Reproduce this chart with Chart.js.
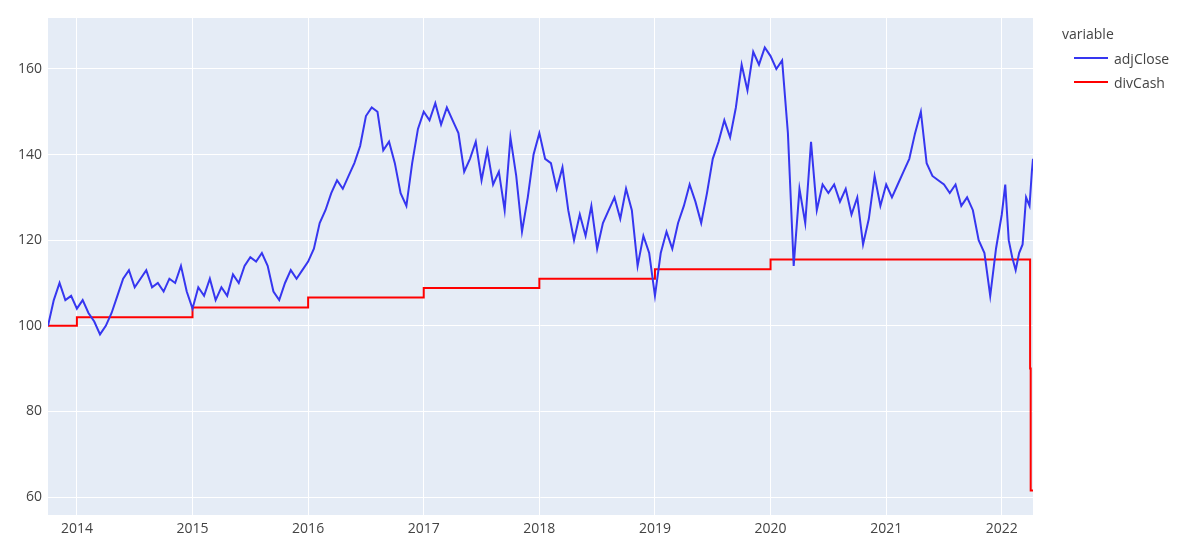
<!DOCTYPE html>
<html>
<head>
<meta charset="utf-8">
<script src="https://cdn.jsdelivr.net/npm/chart.js@4/dist/chart.umd.min.js"></script>
<style>
  body { margin: 0; background: #fff; font-family: "Open Sans", sans-serif; }
  #wrap { position: relative; width: 1200px; height: 551px; }
  #legend { position: absolute; left: 1062px; top: 24px; color: #444; font-size: 14px; }
  #legend .item { display: flex; align-items: center; height: 24px; margin-left: 12px; }
  #legend .sw { width: 34px; height: 2px; margin-right: 6px; }
</style>
</head>
<body>
<div id="wrap">
  <canvas id="c" width="1200" height="551"></canvas>
  <div id="legend">
    <div style="height:22px">variable</div>
    <div class="item"><span class="sw" style="background:#3636f0"></span>adjClose</div>
    <div class="item"><span class="sw" style="background:#f00"></span>divCash</div>
  </div>
</div>
<script>
// decimal years
const closeX = [2013.75,2013.8,2013.85,2013.9,2013.95,2014.0,2014.05,2014.1,2014.15,2014.2,2014.25,2014.3,2014.35,2014.4,2014.45,2014.5,2014.55,2014.6,2014.65,2014.7,2014.75,2014.8,2014.85,2014.9,2014.95,
  2015.0,2015.05,2015.1,2015.15,2015.2,2015.25,2015.3,2015.35,2015.4,2015.45,2015.5,2015.55,2015.6,2015.65,2015.7,2015.75,2015.8,2015.85,2015.9,2015.95,
  2016.0,2016.05,2016.1,2016.15,2016.2,2016.25,2016.3,2016.35,2016.4,2016.45,2016.5,2016.55,2016.6,2016.65,2016.7,2016.75,2016.8,2016.85,2016.9,2016.95,
  2017.0,2017.05,2017.1,2017.15,2017.2,2017.25,2017.3,2017.35,2017.4,2017.45,2017.5,2017.55,2017.6,2017.65,2017.7,2017.75,2017.8,2017.85,2017.9,2017.95,
  2018.0,2018.05,2018.1,2018.15,2018.2,2018.25,2018.3,2018.35,2018.4,2018.45,2018.5,2018.55,2018.6,2018.65,2018.7,2018.75,2018.8,2018.85,2018.9,2018.95,
  2019.0,2019.05,2019.1,2019.15,2019.2,2019.25,2019.3,2019.35,2019.4,2019.45,2019.5,2019.55,2019.6,2019.65,2019.7,2019.75,2019.8,2019.85,2019.9,2019.95,
  2020.0,2020.05,2020.1,2020.15,2020.2,2020.25,2020.3,2020.35,2020.4,2020.45,2020.5,2020.55,2020.6,2020.65,2020.7,2020.75,2020.8,2020.85,2020.9,2020.95,
  2021.0,2021.05,2021.1,2021.15,2021.2,2021.25,2021.3,2021.35,2021.4,2021.45,2021.5,2021.55,2021.6,2021.65,2021.7,2021.75,2021.8,2021.85,2021.9,2021.95,
  2022.0,2022.03,2022.06,2022.09,2022.12,2022.15,2022.18,2022.21,2022.24,2022.26,2022.27];
const closeY = [100,106,110,106,107,104,106,103,101,98,100,103,107,111,113,109,111,113,109,110,108,111,110,114,108,
  104,109,107,111,106,109,107,112,110,114,116,115,117,114,108,106,110,113,111,113,
  115,118,124,127,131,134,132,135,138,142,149,151,150,141,143,138,131,128,138,146,
  150,148,152,147,151,148,145,136,139,143,134,141,133,136,127,144,135,122,130,140,
  145,139,138,132,137,127,120,126,121,128,118,124,127,130,125,132,127,114,121,117,
  107,117,122,118,124,128,133,129,124,131,139,143,148,144,151,161,155,164,161,165,
  163,160,162,145,114,132,124,143,127,133,131,133,129,132,126,130,119,125,135,128,
  133,130,133,136,139,145,150,138,135,134,133,131,133,128,130,127,120,117,107,118,
  126,133,120,116,113,117,119,130,128,136,139];
const divX = [2013.75,2014.0,2015.0,2016.0,2017.0,2018.0,2019.0,2020.0,2022.245,2022.25,2022.27];
const divY = [100,102,104.3,106.6,108.8,111,113.2,115.5,90,61.5,61.5];
const yTicks = [60,80,100,120,140,160];

const bgPlugin = {
  id: 'bg',
  beforeDraw(chart) {
    const a = chart.chartArea, ctx = chart.ctx;
    ctx.save();
    ctx.fillStyle = '#e5ecf6';
    ctx.fillRect(a.left, a.top, a.right - a.left, a.bottom - a.top);
    ctx.restore();
  }
};

Chart.defaults.font.family = '"Open Sans", sans-serif';
Chart.defaults.font.size = 14;
Chart.defaults.color = '#444';

new Chart(document.getElementById('c'), {
  type: 'line',
  data: {
    datasets: [
      { label: 'adjClose', data: closeX.map((x, i) => ({ x, y: closeY[i] })),
        borderColor: '#3636f0', borderWidth: 2, pointRadius: 0, tension: 0 },
      { label: 'divCash', data: divX.map((x, i) => ({ x, y: divY[i] })),
        borderColor: '#ff0000', borderWidth: 2, pointRadius: 0, stepped: 'before' }
    ]
  },
  options: {
    responsive: false,
    animation: false,
    layout: { padding: { top: 18, right: 167, left: 0, bottom: 0 } },
    plugins: { legend: { display: false }, tooltip: { enabled: false } },
    scales: {
      x: {
        type: 'linear', min: 2013.75, max: 2022.27,
        afterBuildTicks: s => { s.ticks = [2014,2015,2016,2017,2018,2019,2020,2021,2022].map(v => ({ value: v })); },
        ticks: { callback: v => String(v), maxRotation: 0, padding: 6 },
        grid: { color: '#fff', lineWidth: 1, drawTicks: false },
        border: { display: false },
        afterFit: s => { s.height = 36; }
      },
      y: {
        min: 55.8, max: 171.9,
        afterBuildTicks: s => { s.ticks = yTicks.map(v => ({ value: v })); },
        ticks: { padding: 6 },
        grid: { color: '#fff', lineWidth: 1, drawTicks: false },
        border: { display: false },
        afterFit: s => { s.width = 48; }
      }
    }
  },
  plugins: [bgPlugin]
});
</script>
</body>
</html>
